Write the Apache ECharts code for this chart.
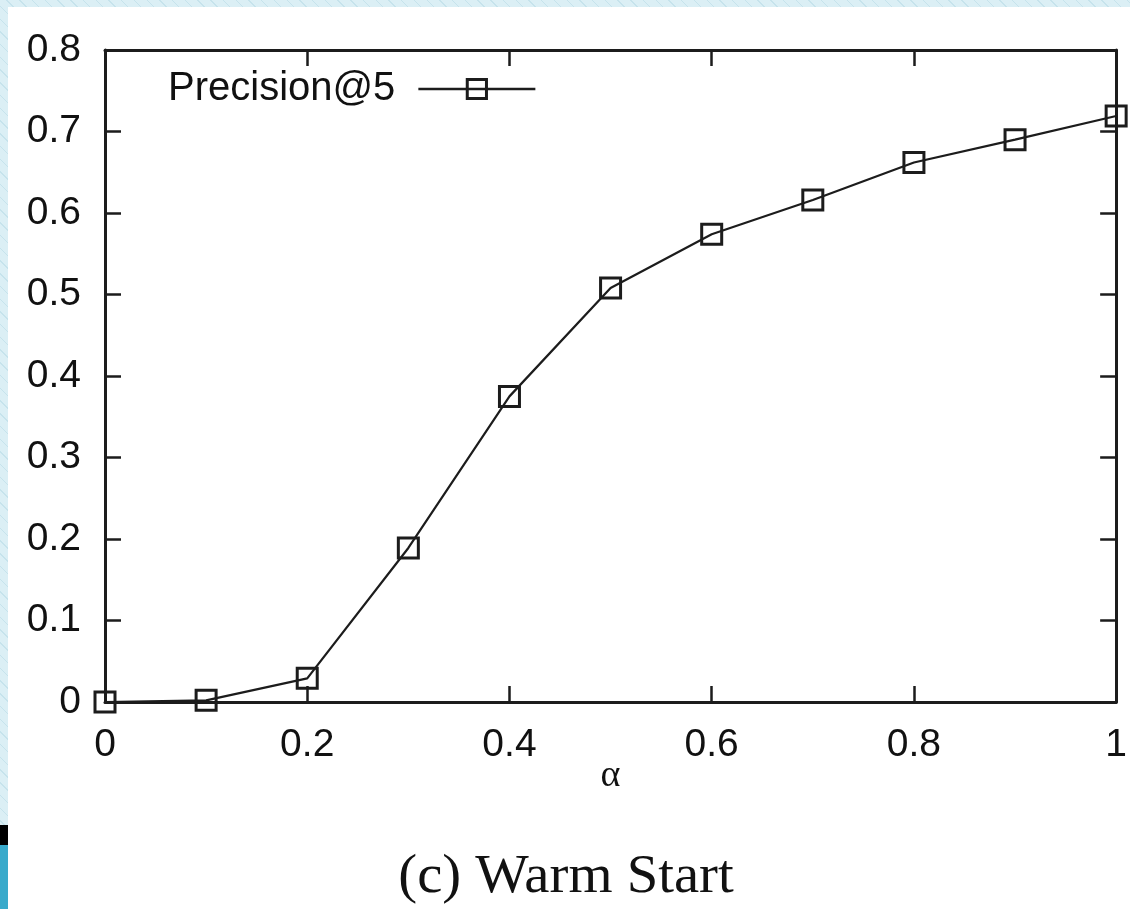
<!DOCTYPE html>
<html>
<head>
<meta charset="utf-8">
<script src="https://cdn.jsdelivr.net/npm/echarts@6/dist/echarts.min.js"></script>
<style>
  html, body {
    margin: 0;
    padding: 0;
    width: 1130px;
    height: 909px;
    overflow: hidden;
    background-color: #dbeff5;
    background-image: repeating-linear-gradient(45deg, transparent 0, transparent 8px, #c6e3ec 8px, #c6e3ec 9px);
  }
  #chart {
    width: 1130px;
    height: 909px;
  }
</style>
</head>
<body>
<div id="chart"></div>
<script>
  // alpha values and Precision@5
  const alphas = [0, 0.1, 0.2, 0.3, 0.4, 0.5, 0.6, 0.7, 0.8, 0.9, 1.0]
  const precision5 = [0, 0.002, 0.029, 0.189, 0.375, 0.508, 0.574, 0.616, 0.662, 0.690, 0.719]
  const seriesName = 'Precision@5'
  const xName = 'α'
  const caption = '(c) Warm Start'

  const ink = '#1c1c1c'
  const labelFont = {
    color: '#111',
    fontFamily: 'Liberation Sans, Arial, sans-serif',
    fontSize: 39
  }

  const myChart = echarts.init(document.getElementById('chart'))

  // common axis look: black box, ticks pointing inward
  const boxAxis = (extra) => Object.assign({
    type: 'value',
    axisLine: { show: true, onZero: false, lineStyle: { color: ink, width: 3 } },
    axisTick: { show: true, inside: true, length: 16, lineStyle: { color: ink, width: 2.5 } },
    splitLine: { show: false }
  }, extra)

  myChart.setOption({
    backgroundColor: 'transparent',
    animation: false,

    grid: {
      left: 105,
      right: 12,
      top: 50,
      bottom: 207
    },

    graphic: [
      // white figure page
      { type: 'rect', z: -10, shape: { x: 8, y: 7, width: 1122, height: 902 }, style: { fill: '#fff' } },
      // slide decoration in the bottom-left corner
      { type: 'rect', z: -10, shape: { x: 0, y: 825, width: 8, height: 20 }, style: { fill: '#000' } },
      { type: 'rect', z: -10, shape: { x: 0, y: 845, width: 8, height: 64 }, style: { fill: '#39aacb' } },
      {
        type: 'text',
        x: 566,
        y: 878,
        scaleX: 1.05,
        style: {
          text: caption,
          fill: '#111',
          font: '54px "Liberation Serif", "Times New Roman", serif',
          align: 'center',
          verticalAlign: 'middle'
        }
      }
    ],

    legend: {
      left: 163,
      top: 64,
      align: 'right',
      itemWidth: 117,
      itemHeight: 24,
      data: [seriesName],
      lineStyle: { color: ink, width: 2.5 },
      itemStyle: { color: 'rgba(255,255,255,0)', borderColor: ink, borderWidth: 3 },
      textStyle: Object.assign({}, labelFont, { fontSize: 40, padding: [0, 18, 0, 0] })
    },

    xAxis: [
      boxAxis({
        min: 0,
        max: 1,
        interval: 0.2,
        position: 'bottom',
        name: xName,
        nameLocation: 'middle',
        nameGap: 55,
        nameMoveOverlap: false,
        nameTextStyle: {
          color: '#111',
          fontFamily: 'Liberation Serif, Times New Roman, serif',
          fontSize: 38
        },
        axisLabel: Object.assign({ margin: 24 }, labelFont)
      }),
      boxAxis({
        min: 0,
        max: 1,
        interval: 0.2,
        position: 'top',
        axisLabel: { show: false }
      })
    ],
    yAxis: [
      boxAxis({
        min: 0,
        max: 0.8,
        interval: 0.1,
        position: 'left',
        axisLabel: Object.assign({ margin: 24 }, labelFont)
      }),
      boxAxis({
        min: 0,
        max: 0.8,
        interval: 0.1,
        position: 'right',
        axisLabel: { show: false }
      })
    ],

    series: [
      {
        type: 'line',
        name: seriesName,
        data: alphas.map((a, i) => [a, precision5[i]]),
        clip: false,
        symbol: 'rect',
        symbolSize: 20,
        showAllSymbol: true,
        lineStyle: { color: ink, width: 2.2 },
        itemStyle: { color: 'rgba(255,255,255,0)', borderColor: ink, borderWidth: 3 },
        z: 3
      }
    ]
  })
</script>
</body>
</html>
